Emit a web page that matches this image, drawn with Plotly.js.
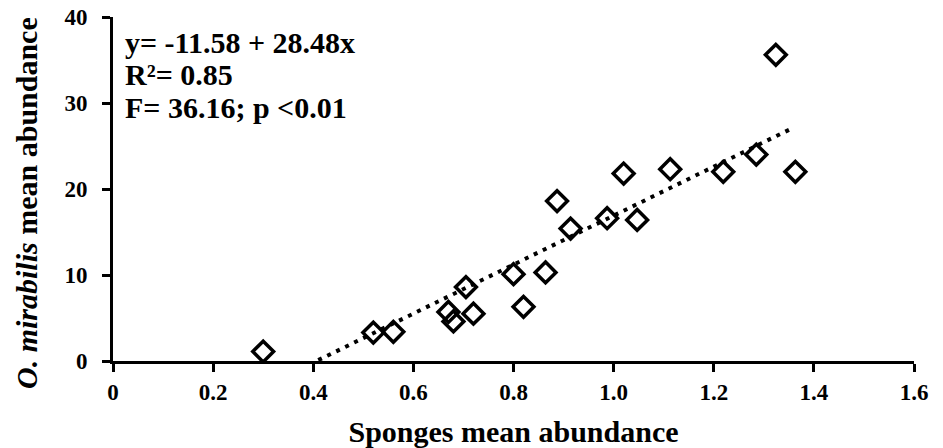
<!DOCTYPE html>
<html>
<head>
<meta charset="utf-8">
<script src="https://cdn.plot.ly/plotly-3.0.1.min.js"></script>
<style>html,body{margin:0;padding:0;background:#fff;}</style>
</head>
<body>
<div id="chart" style="width:943px;height:448px;"></div>
<script>
// Sponges mean abundance (x) vs O. mirabilis mean abundance (y)
const spongeAbundance = [0.30, 0.52, 0.56, 0.67, 0.68, 0.705, 0.72, 0.80, 0.82, 0.864,
                         0.887, 0.914, 0.987, 1.02, 1.047, 1.113, 1.219, 1.285, 1.324, 1.363];
const mirabilisAbundance = [1.1, 3.3, 3.4, 5.7, 4.6, 8.6, 5.5, 10.1, 6.3, 10.3,
                            18.6, 15.4, 16.6, 21.8, 16.4, 22.3, 22.0, 24.0, 35.6, 22.0];
// Regression line end points as drawn
const trendX = [0.41, 1.357];
const trendY = [0.1, 27.07];
const xTickVals = [0, 0.2, 0.4, 0.6, 0.8, 1.0, 1.2, 1.4, 1.6];
const xTickText = ["0", "0.2", "0.4", "0.6", "0.8", "1.0", "1.2", "1.4", "1.6"];
const yTickVals = [0, 10, 20, 30, 40];
const statLines = ["y= -11.58 + 28.48x", "R\u00b2= 0.85", "F= 36.16; p <0.01"];
const statY = [37.0, 33.3, 29.5];
const xTitle = "Sponges mean abundance";
const yTitle = "<i>O. mirabilis</i> mean abundance";

const serif = "Liberation Serif, Times New Roman, serif";

const traces = [
  {
    x: trendX, y: trendY, type: "scatter", mode: "lines",
    line: {color: "#000", width: 4, dash: "4px,6px"},
    hoverinfo: "skip", showlegend: false
  },
  {
    x: spongeAbundance, y: mirabilisAbundance, type: "scatter", mode: "markers",
    marker: {symbol: "diamond-open", size: 16, color: "#000", line: {color: "#000", width: 3.5}},
    showlegend: false
  }
];

const annotations = statLines.map((t, i) => ({
  text: t, xref: "paper", yref: "y", x: 0.013, y: statY[i],
  xanchor: "left", yanchor: "middle", showarrow: false,
  font: {family: serif, size: 30, color: "#000", weight: "bold"}
}));
// y-axis title drawn as a rotated annotation so it can sit where the reference has it
annotations.push({
  text: yTitle, xref: "paper", yref: "paper",
  x: (26 - 113) / 801, y: (361 - 203) / 344,
  xanchor: "center", yanchor: "middle", textangle: -90, showarrow: false,
  font: {family: serif, size: 30, color: "#000", weight: "bold"}
});

const layout = {
  width: 943, height: 448, autosize: false,
  paper_bgcolor: "#fff", plot_bgcolor: "#fff",
  margin: {l: 113, r: 29, t: 17, b: 87},
  font: {family: serif, color: "#000", weight: "bold"},
  xaxis: {
    range: [0, 1.6], tickvals: xTickVals, ticktext: xTickText,
    showgrid: false, zeroline: false, showline: true, linecolor: "#000", linewidth: 3,
    ticks: "outside", ticklen: 8, tickwidth: 3, tickcolor: "#000",
    tickfont: {family: serif, size: 23, color: "#000", weight: "bold"},
    ticklabelstandoff: 0,
    title: {text: xTitle, font: {family: serif, size: 30, color: "#000", weight: "bold"}, standoff: 22},
    automargin: false
  },
  yaxis: {
    range: [0, 40], tickvals: yTickVals,
    showgrid: false, zeroline: false, showline: true, linecolor: "#000", linewidth: 3,
    ticks: "outside", ticklen: 8, tickwidth: 3, tickcolor: "#000",
    tickfont: {family: serif, size: 23, color: "#000", weight: "bold"},
    ticklabelstandoff: 10,
    automargin: false
  },
  annotations: annotations
};

Plotly.newPlot("chart", traces, layout, {displayModeBar: false, staticPlot: true});
</script>
</body>
</html>
